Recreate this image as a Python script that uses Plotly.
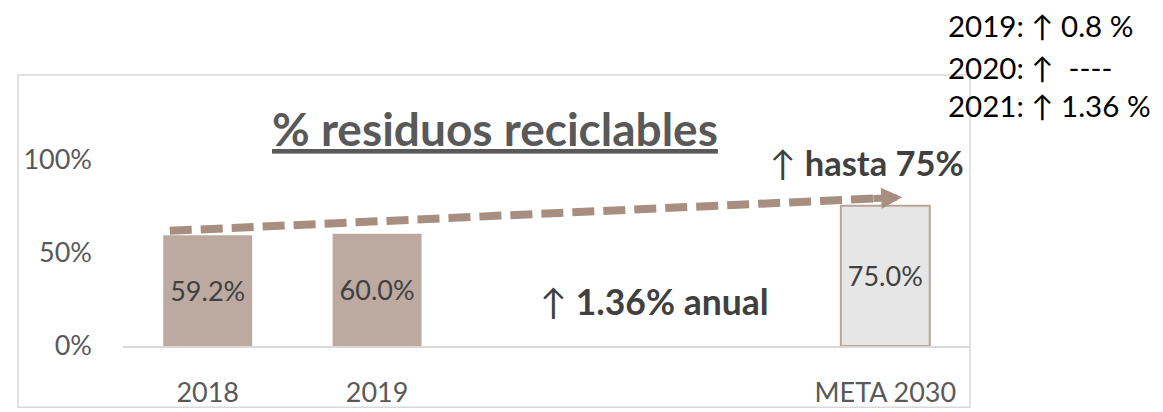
import plotly.graph_objects as go

# ---- data ----
categories = ["2018", "2019", "META 2030"]
values = [0.592, 0.600, 0.750]
axis_slots = ["2018", "2019", " ", "  ", "META 2030"]
y_tickvals = [0, 0.5, 1.0]
y_ticktext = ["0%", "50%", "100%"]
title_text = "% residuos reciclables"
goal_text = "↑ <b>hasta 75%</b>"
annual_text = "↑ <b>1.36% anual</b>"
box_lines = ["2019: ↑ 0.8 %", "2020: ↑  ----", "2021: ↑ 1.36 %"]
# trend arrow (category-index / value coordinates)
trend_start = (-0.224, 0.616)
trend_end = (4.10, 0.796)

FONT = "Lato"
BAR = "rgb(188,170,160)"
ARROW = "rgb(168,142,128)"
GOAL_FILL = "#e6e6e6"
GOAL_LINE = "rgb(185,164,152)"

# page offset (browser body margin)
OFF = 8
W, H = 1163, 412
# plot-area edges in page pixels
PL, PR, PT, PB = 123, 970, 75, 349
L, R, T, B = PL - OFF, W - (PR - OFF), PT - OFF, H - (PB - OFF)
pw, ph = PR - PL, PB - PT

def px_x(px):
    return (px - PL) / pw

def px_y(py):
    return (PB - py) / ph

fig = go.Figure()
fig.add_trace(go.Bar(
    x=categories, y=values,
    marker=dict(color=[BAR, BAR, GOAL_FILL],
                line=dict(color=[BAR, BAR, GOAL_LINE], width=[0, 0, 2])),
    texttemplate="%{y:.1%}", textposition="inside", insidetextanchor="middle",
    textfont=dict(family=FONT, size=27, color="#404040"),
    constraintext="none", cliponaxis=False, hoverinfo="skip",
))

shapes = [
    dict(type="rect", xref="paper", yref="paper",
         x0=px_x(18), x1=px_x(970), y0=px_y(411), y1=px_y(75),
         line=dict(color="#d9d9d9", width=1.5), fillcolor="rgba(0,0,0,0)", layer="below"),
    dict(type="line", xref="x", yref="y",
         x0=trend_start[0], y0=trend_start[1],
         x1=trend_end[0] - 0.16, y1=trend_end[1] - 0.16 * 0.0416,
         line=dict(color=ARROW, width=8, dash="22px,9px"), layer="above"),
]

annotations = [
    dict(text="<u>" + "<b>" + title_text + "</b></u>", xref="paper", yref="paper",
         x=px_x(495), y=px_y(129), xanchor="center", yanchor="middle", showarrow=False,
         font=dict(family=FONT, size=46, color="#595959")),
    dict(text=goal_text, xref="paper", yref="paper",
         x=px_x(768), y=px_y(163), xanchor="left", yanchor="middle", showarrow=False,
         font=dict(family=FONT, size=34.5, color="#404040")),
    dict(text=annual_text, xref="paper", yref="paper",
         x=px_x(538), y=px_y(304), xanchor="left", yanchor="middle", showarrow=False,
         font=dict(family=FONT, size=35.5, color="#404040")),
    dict(text="", xref="x", yref="y", axref="x", ayref="y",
         x=trend_end[0], y=trend_end[1],
         ax=trend_end[0] - 0.18, ay=trend_end[1] - 0.18 * 0.0416,
         showarrow=True, arrowhead=2, arrowsize=0.6, arrowwidth=7,
         arrowcolor=ARROW, standoff=0),
]
for line, py in zip(box_lines, [25, 67, 106]):
    annotations.append(dict(text=line, xref="paper", yref="paper",
                            x=px_x(946), y=px_y(py), xanchor="left", yanchor="middle",
                            showarrow=False,
                            font=dict(family=FONT, size=29.5, color="#000000")))

fig.update_layout(
    width=W, height=H,
    margin=dict(l=L, r=R, t=T, b=B, pad=0),
    paper_bgcolor="white", plot_bgcolor="white",
    showlegend=False, bargap=0.475,
    font=dict(family=FONT, color="#595959"),
    shapes=shapes, annotations=annotations,
    xaxis=dict(type="category", categoryorder="array", categoryarray=axis_slots,
               range=[-0.5, 4.5], showgrid=False, zeroline=False,
               showline=True, linecolor="#d9d9d9", linewidth=2,
               ticks="", ticklabelstandoff=22,
               tickfont=dict(family=FONT, size=27, color="#595959")),
    yaxis=dict(range=[0, ph / 189.0], tickvals=y_tickvals, ticktext=y_ticktext,
               showgrid=False, zeroline=False, showline=False,
               ticks="", ticklabelstandoff=30,
               tickfont=dict(family=FONT, size=27, color="#595959")),
)

fig.write_html("out.html")
